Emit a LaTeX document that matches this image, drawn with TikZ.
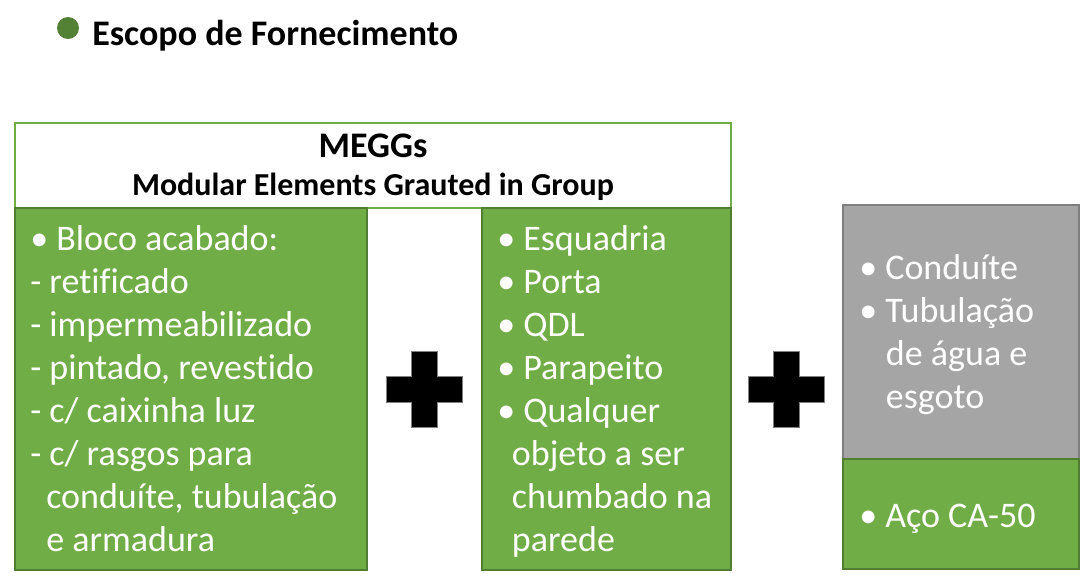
\documentclass[tikz,border=0pt]{standalone}
\usepackage{fontspec}
\setmainfont[Ligatures={NoCommon}]{Carlito}
\usetikzlibrary{fit}
\definecolor{boxgreen}{HTML}{70AD47}
\definecolor{edgegreen}{HTML}{507E32}
\definecolor{dotgreen}{HTML}{548235}
\definecolor{boxgray}{HTML}{A5A5A5}
\definecolor{edgegray}{HTML}{7F7F7F}

\begin{document}
\begin{tikzpicture}[x=0.75pt, y=-0.75pt,
    greenbox/.style={draw=edgegreen, fill=boxgreen, line width=1.5pt, inner sep=0pt},
    graybox/.style={draw=edgegray, fill=boxgray, line width=1.5pt, inner sep=0pt},
    headbox/.style={draw=boxgreen, fill=white, line width=1.5pt, inner sep=0pt},
    bodytext/.style={text=white, inner sep=0pt, align=left, anchor=base west,
        font=\fontsize{27}{32.25}\selectfont},
    plussign/.style={fill=black, draw=gray, line width=0.75pt}]
\useasboundingbox (0,0) rectangle (1090,587);

% title
\node[circle, fill=dotgreen, minimum size=16.5pt, inner sep=0pt] (dot) at (68,28) {};
\node[anchor=base west, inner sep=0pt, font=\fontsize{27}{32}\selectfont\bfseries] (title) at (92,45)
    {Escopo de Fornecimento};

% boxes
\node[headbox, fit={(15,123) (731,208)}] (megg) {};
\node[greenbox, fit={(15,208) (367,570)}] (bloco) {};
\node[greenbox, fit={(482,208) (731,570)}] (esq) {};
\node[graybox, fit={(843,205) (1079,459)}] (tubo) {};
\node[greenbox, fit={(843,459) (1079,569)}] (aco) {};

\node[anchor=base, inner sep=0pt, font=\fontsize{27}{32}\selectfont\bfseries] (megname) at (373,157) {MEGGs};
\node[anchor=base, inner sep=0pt, font=\fontsize{24}{29}\selectfont\bfseries] (megfull) at (373,195)
    {Modular Elements Grauted in Group};

% texts (anchored on the last line)
\node[bodytext] (blocotxt) at (30,551)
    {\textbullet~Bloco acabado:\\
     - retificado\\
     - impermeabilizado\\
     - pintado, revestido\\
     - c/ caixinha luz\\
     - c/ rasgos para\\
     \hspace*{12pt}conduíte, tubulação\\
     \hspace*{12pt}e armadura};
\node[bodytext] (esqtxt) at (497,551)
    {\textbullet~Esquadria\\
     \textbullet~Porta\\
     \textbullet~QDL\\
     \textbullet~Parapeito\\
     \textbullet~Qualquer\\
     \hspace*{11pt}objeto a ser\\
     \hspace*{11pt}chumbado na\\
     \hspace*{11pt}parede};
\node[bodytext] (tubotxt) at (859,408)
    {\textbullet~Conduíte\\
     \textbullet~Tubulação\\
     \hspace*{20pt}de água e\\
     \hspace*{20pt}esgoto};
\node[bodytext] (acotxt) at (859,527) {\textbullet~Aço CA-50};

% plus signs
\foreach \cx in {424,786}
  \filldraw[plussign] (\cx-13,351) -- (\cx+13,351) -- (\cx+13,376) -- (\cx+38,376) -- (\cx+38,402)
    -- (\cx+13,402) -- (\cx+13,427) -- (\cx-13,427) -- (\cx-13,402) -- (\cx-38,402)
    -- (\cx-38,376) -- (\cx-13,376) -- cycle;
\end{tikzpicture}
\end{document}
